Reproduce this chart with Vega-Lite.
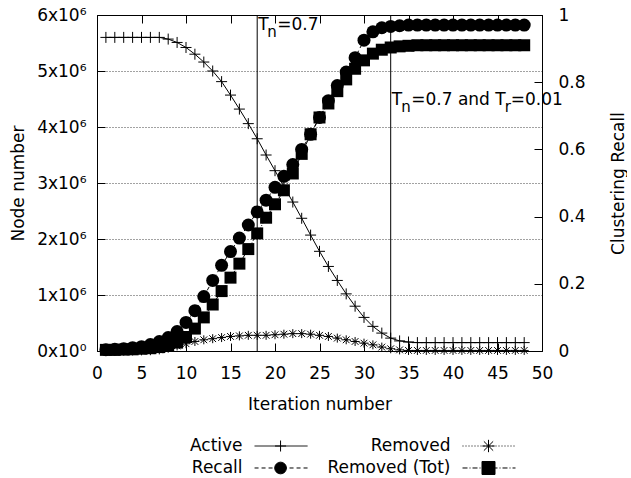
{
  "$schema": "https://vega.github.io/schema/vega-lite/v6.json",
  "padding": {"left": 9, "top": 6, "right": 0, "bottom": 0},
  "bounds": "flush",
  "spacing": 80,
  "config": {
    "font": "DejaVu Sans",
    "view": {"stroke": null},
    "axis": {"labelFontSize": 17, "titleFontSize": 17, "titleFontWeight": "normal", "labelColor": "black", "titleColor": "black", "domainColor": "black", "tickColor": "black", "domainWidth": 1, "tickWidth": 1, "labelFlush": false}
  },
  "datasets": {
    "main": [
      {"i": 1, "active": 5600000, "recall": 0.004, "removed": 0, "removedTot": 20000},
      {"i": 2, "active": 5600000, "recall": 0.005, "removed": 0, "removedTot": 20000},
      {"i": 3, "active": 5600000, "recall": 0.007, "removed": 0, "removedTot": 25000},
      {"i": 4, "active": 5600000, "recall": 0.01, "removed": 0, "removedTot": 30000},
      {"i": 5, "active": 5600000, "recall": 0.013, "removed": 2000, "removedTot": 40000},
      {"i": 6, "active": 5600000, "recall": 0.019, "removed": 5000, "removedTot": 50000},
      {"i": 7, "active": 5600000, "recall": 0.028, "removed": 20000, "removedTot": 70000},
      {"i": 8, "active": 5570000, "recall": 0.04, "removed": 50000, "removedTot": 100000},
      {"i": 9, "active": 5510000, "recall": 0.058, "removed": 90000, "removedTot": 150000},
      {"i": 10, "active": 5420000, "recall": 0.085, "removed": 130000, "removedTot": 250000},
      {"i": 11, "active": 5300000, "recall": 0.12, "removed": 170000, "removedTot": 400000},
      {"i": 12, "active": 5160000, "recall": 0.162, "removed": 200000, "removedTot": 600000},
      {"i": 13, "active": 5000000, "recall": 0.21, "removed": 220000, "removedTot": 830000},
      {"i": 14, "active": 4810000, "recall": 0.255, "removed": 240000, "removedTot": 1070000},
      {"i": 15, "active": 4570000, "recall": 0.296, "removed": 260000, "removedTot": 1310000},
      {"i": 16, "active": 4320000, "recall": 0.336, "removed": 270000, "removedTot": 1560000},
      {"i": 17, "active": 4060000, "recall": 0.375, "removed": 280000, "removedTot": 1820000},
      {"i": 18, "active": 3790000, "recall": 0.414, "removed": 280000, "removedTot": 2100000},
      {"i": 19, "active": 3500000, "recall": 0.449, "removed": 280000, "removedTot": 2380000},
      {"i": 20, "active": 3220000, "recall": 0.487, "removed": 290000, "removedTot": 2620000},
      {"i": 21, "active": 2940000, "recall": 0.52, "removed": 300000, "removedTot": 2870000},
      {"i": 22, "active": 2660000, "recall": 0.555, "removed": 310000, "removedTot": 3170000},
      {"i": 23, "active": 2370000, "recall": 0.6, "removed": 310000, "removedTot": 3520000},
      {"i": 24, "active": 2070000, "recall": 0.645, "removed": 300000, "removedTot": 3870000},
      {"i": 25, "active": 1780000, "recall": 0.695, "removed": 280000, "removedTot": 4170000},
      {"i": 26, "active": 1510000, "recall": 0.745, "removed": 260000, "removedTot": 4420000},
      {"i": 27, "active": 1260000, "recall": 0.79, "removed": 230000, "removedTot": 4640000},
      {"i": 28, "active": 1020000, "recall": 0.83, "removed": 200000, "removedTot": 4850000},
      {"i": 29, "active": 800000, "recall": 0.873, "removed": 170000, "removedTot": 5040000},
      {"i": 30, "active": 600000, "recall": 0.925, "removed": 140000, "removedTot": 5190000},
      {"i": 31, "active": 440000, "recall": 0.95, "removed": 110000, "removedTot": 5310000},
      {"i": 32, "active": 320000, "recall": 0.962, "removed": 70000, "removedTot": 5380000},
      {"i": 33, "active": 230000, "recall": 0.966, "removed": 40000, "removedTot": 5420000},
      {"i": 34, "active": 180000, "recall": 0.968, "removed": 20000, "removedTot": 5440000},
      {"i": 35, "active": 160000, "recall": 0.97, "removed": 10000, "removedTot": 5450000},
      {"i": 36, "active": 150000, "recall": 0.97, "removed": 10000, "removedTot": 5460000},
      {"i": 37, "active": 150000, "recall": 0.97, "removed": 10000, "removedTot": 5460000},
      {"i": 38, "active": 150000, "recall": 0.97, "removed": 10000, "removedTot": 5460000},
      {"i": 39, "active": 150000, "recall": 0.97, "removed": 10000, "removedTot": 5460000},
      {"i": 40, "active": 150000, "recall": 0.97, "removed": 10000, "removedTot": 5460000},
      {"i": 41, "active": 150000, "recall": 0.97, "removed": 10000, "removedTot": 5460000},
      {"i": 42, "active": 150000, "recall": 0.97, "removed": 10000, "removedTot": 5460000},
      {"i": 43, "active": 150000, "recall": 0.97, "removed": 10000, "removedTot": 5460000},
      {"i": 44, "active": 150000, "recall": 0.97, "removed": 10000, "removedTot": 5460000},
      {"i": 45, "active": 150000, "recall": 0.97, "removed": 10000, "removedTot": 5460000},
      {"i": 46, "active": 150000, "recall": 0.97, "removed": 10000, "removedTot": 5460000},
      {"i": 47, "active": 150000, "recall": 0.97, "removed": 10000, "removedTot": 5460000},
      {"i": 48, "active": 150000, "recall": 0.97, "removed": 10000, "removedTot": 5460000}
    ],
    "legend": [
      {"series": "Active", "col": 1, "row": 1},
      {"series": "Recall", "col": 1, "row": 2},
      {"series": "Removed", "col": 2, "row": 1},
      {"series": "Removed (Tot)", "col": 2, "row": 2}
    ]
  },
  "vconcat": [
    {
      "width": 445,
      "height": 336,
      "data": {"name": "main"},
      "resolve": {"scale": {"y": "independent"}, "axis": {"x": "independent"}},
      "layer": [
        {
          "encoding": {
            "x": {"field": "i", "type": "quantitative", "scale": {"domain": [0, 50], "nice": false},
                  "axis": {"orient": "top", "labels": false, "title": null, "values": [0, 5, 10, 15, 20, 25, 30, 35, 40, 45, 50], "tickSize": -8, "grid": false}},
            "y": {"field": "recall", "type": "quantitative", "scale": {"domain": [0, 1], "nice": false},
                  "axis": {"orient": "right", "title": "Clustering Recall", "titleAngle": 270, "format": ".1~f", "values": [0, 0.2, 0.4, 0.6, 0.8, 1], "tickSize": -8, "labelPadding": 24, "titlePadding": 42, "grid": false}}
          },
          "layer": [
            {"mark": {"type": "line", "color": "black", "strokeWidth": 1, "strokeDash": [4, 3]}},
            {"mark": {"type": "point", "shape": "circle", "filled": true, "color": "black", "opacity": 1, "size": 169}}
          ]
        },
        {
          "encoding": {
            "x": {"field": "i", "type": "quantitative", "scale": {"domain": [0, 50], "nice": false},
                  "axis": {"orient": "bottom", "title": "Iteration number", "values": [0, 5, 10, 15, 20, 25, 30, 35, 40, 45, 50], "tickSize": -8, "labelPadding": 22, "titlePadding": 15, "grid": false}}
          },
          "layer": [
            {"mark": {"type": "line", "color": "black", "strokeWidth": 1},
             "encoding": {"y": {"field": "active", "type": "quantitative", "scale": {"domain": [0, 6000000], "nice": false},
               "axis": {"orient": "left", "title": "Node number", "values": [0, 1000000, 2000000, 3000000, 4000000, 5000000, 6000000],
                        "labelExpr": "datum.value == 0 ? '0x10⁰' : (datum.value / 1000000) + 'x10⁶'",
                        "tickSize": -8, "labelPadding": 19, "titlePadding": 9, "grid": true, "gridDash": [1, 2], "gridColor": "#444444", "gridWidth": 1, "gridOpacity": 1}}}},
            {"data": {"values": [{"i": 18}, {"i": 33}]}, "mark": {"type": "rule", "color": "black", "strokeWidth": 1}, "encoding": {}},
            {"mark": {"type": "point", "shape": "M-1,0H1M0,-1V1", "filled": false, "color": "black", "strokeWidth": 1, "opacity": 1, "size": 121},
             "encoding": {"y": {"field": "active", "type": "quantitative"}}},
            {"mark": {"type": "line", "color": "black", "strokeWidth": 1, "strokeDash": [1, 2]},
             "encoding": {"y": {"field": "removed", "type": "quantitative"}}},
            {"mark": {"type": "point", "shape": "M-1,0H1M0,-1V1M-0.75,-0.75L0.75,0.75M-0.75,0.75L0.75,-0.75", "filled": false, "color": "black", "strokeWidth": 1, "opacity": 1, "size": 81},
             "encoding": {"y": {"field": "removed", "type": "quantitative"}}},
            {"mark": {"type": "line", "color": "black", "strokeWidth": 1, "strokeDash": [5, 2, 1, 2]},
             "encoding": {"y": {"field": "removedTot", "type": "quantitative"}}},
            {"mark": {"type": "point", "shape": "square", "filled": true, "color": "black", "opacity": 1, "size": 144},
             "encoding": {"y": {"field": "removedTot", "type": "quantitative"}}},
            {"data": {"values": [{"i": 18, "v": 5730000, "t": "T"}]}, "mark": {"type": "text", "align": "left", "baseline": "alphabetic", "fontSize": 17, "dx": 1, "color": "black"},
             "encoding": {"y": {"field": "v", "type": "quantitative"}, "text": {"field": "t"}}},
            {"data": {"values": [{"i": 18, "v": 5730000, "t": "n"}]}, "mark": {"type": "text", "align": "left", "baseline": "alphabetic", "fontSize": 15, "dx": 10, "dy": 7, "color": "black"},
             "encoding": {"y": {"field": "v", "type": "quantitative"}, "text": {"field": "t"}}},
            {"data": {"values": [{"i": 18, "v": 5730000, "t": "=0.7"}]}, "mark": {"type": "text", "align": "left", "baseline": "alphabetic", "fontSize": 17, "dx": 20, "color": "black"},
             "encoding": {"y": {"field": "v", "type": "quantitative"}, "text": {"field": "t"}}},
            {"data": {"values": [{"i": 33, "v": 4390000, "t": "T"}]}, "mark": {"type": "text", "align": "left", "baseline": "alphabetic", "fontSize": 17, "dx": 1, "color": "black"},
             "encoding": {"y": {"field": "v", "type": "quantitative"}, "text": {"field": "t"}}},
            {"data": {"values": [{"i": 33, "v": 4390000, "t": "n"}]}, "mark": {"type": "text", "align": "left", "baseline": "alphabetic", "fontSize": 15, "dx": 10.5, "dy": 7, "color": "black"},
             "encoding": {"y": {"field": "v", "type": "quantitative"}, "text": {"field": "t"}}},
            {"data": {"values": [{"i": 33, "v": 4390000, "t": "=0.7 and T"}]}, "mark": {"type": "text", "align": "left", "baseline": "alphabetic", "fontSize": 17, "dx": 20.5, "color": "black"},
             "encoding": {"y": {"field": "v", "type": "quantitative"}, "text": {"field": "t"}}},
            {"data": {"values": [{"i": 33, "v": 4390000, "t": "r"}]}, "mark": {"type": "text", "align": "left", "baseline": "alphabetic", "fontSize": 15, "dx": 114, "dy": 7, "color": "black"},
             "encoding": {"y": {"field": "v", "type": "quantitative"}, "text": {"field": "t"}}},
            {"data": {"values": [{"i": 33, "v": 4390000, "t": "=0.01"}]}, "mark": {"type": "text", "align": "left", "baseline": "alphabetic", "fontSize": 17, "dx": 120, "color": "black"},
             "encoding": {"y": {"field": "v", "type": "quantitative"}, "text": {"field": "t"}}}
          ]
        }
      ]
    },
    {
      "width": 445,
      "height": 50,
      "data": {"name": "legend"},
      "encoding": {
        "x": {"field": "col", "type": "quantitative", "scale": {"domain": [0.3, 2.44], "nice": false, "zero": false}, "axis": null},
        "y": {"field": "row", "type": "quantitative", "scale": {"domain": [0.318, 2.591], "nice": false, "zero": false, "reverse": true}, "axis": null}
      },
      "layer": [
        {"mark": {"type": "text", "align": "right", "baseline": "middle", "fontSize": 17, "color": "black"}, "encoding": {"text": {"field": "series"}}},
        {"mark": {"type": "rule", "xOffset": 12, "x2Offset": 65, "strokeWidth": 1, "color": "black"},
         "encoding": {"x2": {"field": "col"},
                      "strokeDash": {"field": "series", "type": "nominal", "scale": {"domain": ["Active", "Recall", "Removed", "Removed (Tot)"], "range": [[1, 0], [4, 3], [1, 2], [5, 2, 1, 2]]}, "legend": null}}},
        {"mark": {"type": "point", "xOffset": 38, "stroke": "black", "strokeWidth": 1, "opacity": 1},
         "encoding": {
           "shape": {"field": "series", "type": "nominal", "scale": {"domain": ["Active", "Recall", "Removed", "Removed (Tot)"], "range": ["M-1,0H1M0,-1V1", "circle", "M-1,0H1M0,-1V1M-0.75,-0.75L0.75,0.75M-0.75,0.75L0.75,-0.75", "square"]}, "legend": null},
           "size": {"field": "series", "type": "ordinal", "scale": {"domain": ["Active", "Recall", "Removed", "Removed (Tot)"], "range": [121, 169, 100, 144]}, "legend": null},
           "fill": {"condition": {"test": "datum.series == 'Recall' || datum.series == 'Removed (Tot)'", "value": "black"}, "value": "transparent"}
         }}
      ]
    }
  ]
}
